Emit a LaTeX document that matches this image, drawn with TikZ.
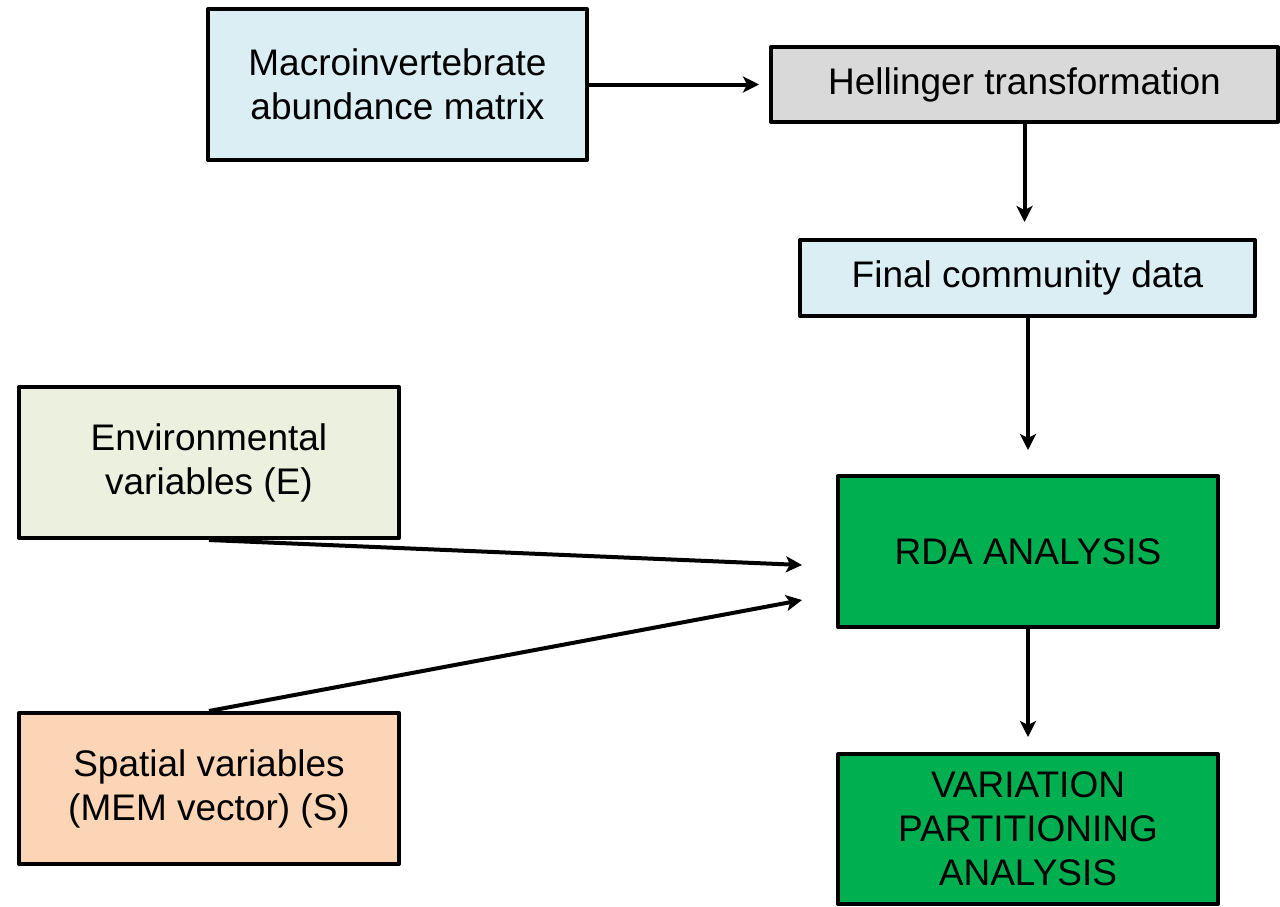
\documentclass[tikz,border=0pt]{standalone}
\usepackage{fontspec}
\setmainfont{Liberation Sans}
\usetikzlibrary{arrows.meta}
\definecolor{paleblue}{HTML}{DAEEF3}
\definecolor{palegray}{HTML}{D9D9D9}
\definecolor{palegreen}{HTML}{EBF1DE}
\definecolor{peach}{HTML}{FBD5B5}
\definecolor{rdagreen}{HTML}{00B050}
\begin{document}
\begin{tikzpicture}[x=1pt,y=-1pt,
  box/.style={draw=black, line width=4pt, line join=round, inner sep=0pt,
    align=center, font=\fontsize{37}{44}\selectfont},
  flow/.style={line width=4pt, -{Stealth[length=16pt,width=16pt,inset=4pt]}}]
\useasboundingbox (0,0) rectangle (1280,906);
% boxes
\node[box, fill=paleblue, minimum width=379pt, minimum height=151pt] (macro) at (397.5,84.5)
  {Macroinvertebrate\\abundance matrix};
\node[box, fill=palegray, minimum width=507pt, minimum height=75pt] (hell) at (1024.5,84.5)
  {Hellinger transformation};
\node[box, fill=paleblue, minimum width=455pt, minimum height=76pt] (final) at (1027.5,278)
  {Final community data};
\node[box, fill=palegreen, minimum width=380pt, minimum height=151pt] (env) at (209,462.5)
  {Environmental\\variables (E)};
\node[box, fill=rdagreen, minimum width=380pt, minimum height=151pt] (rda) at (1028,551.5)
  {RDA ANALYSIS};
\node[box, fill=peach, minimum width=380pt, minimum height=151pt] (spat) at (209,788.5)
  {Spatial variables\\(MEM vector) (S)};
\node[box, fill=rdagreen, minimum width=380pt, minimum height=150pt] (var) at (1028,829)
  {VARIATION\\PARTITIONING\\ANALYSIS};
% free arrow ends beside the RDA box
\coordinate (envend) at (802,565);
\coordinate (spatend) at (802,600);
% connectors
\draw[flow, shorten >=10pt] (macro.east) -- (hell.west);
\draw[flow, shorten >=16pt] (hell.south) -- (hell.south |- final.north);
\draw[flow, shorten >=24pt] (rda.north |- final.south) -- (rda.north);
\draw[flow] (env.south) -- (envend);
\draw[flow] (spat.north) -- (spatend);
\draw[flow, shorten >=15pt] (rda.south) -- (var.north);
\end{tikzpicture}
\end{document}
